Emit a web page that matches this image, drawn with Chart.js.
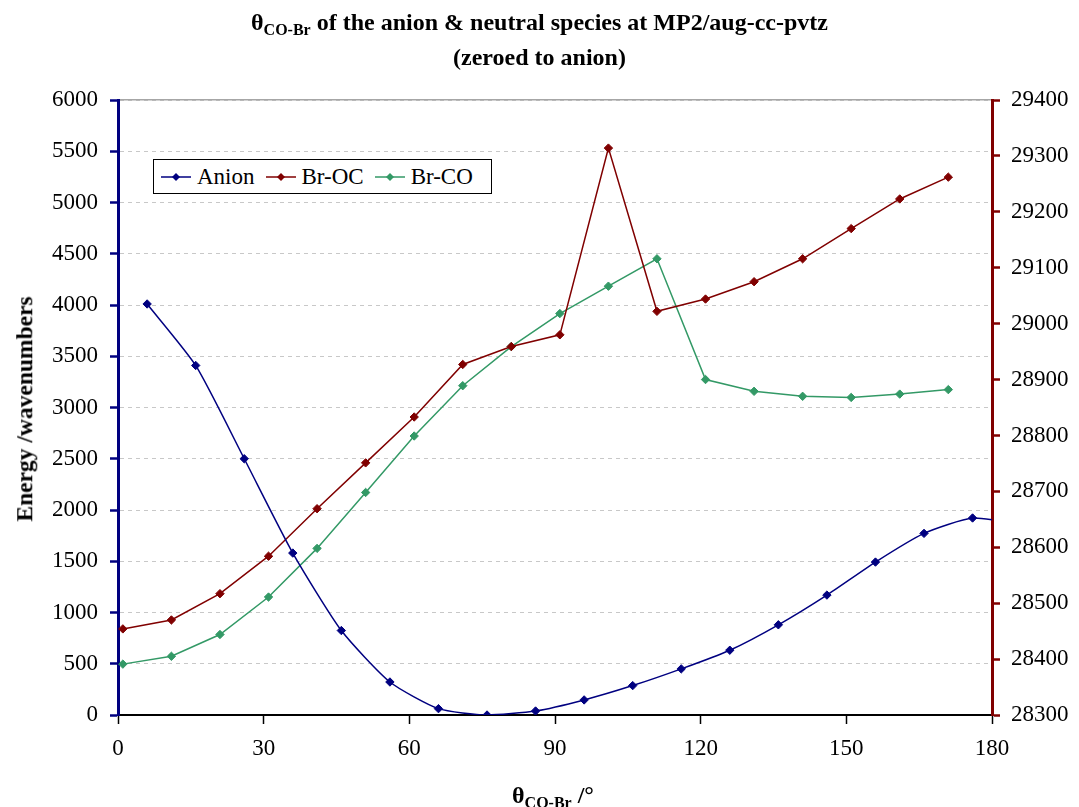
<!DOCTYPE html>
<html>
<head>
<meta charset="utf-8">
<script src="https://cdn.jsdelivr.net/npm/chart.js@4.4.1/dist/chart.umd.min.js"></script>
<style>
  html, body { margin: 0; padding: 0; background: #ffffff; }
  #wrap { position: relative; width: 1079px; height: 807px; overflow: hidden; font-family: "Liberation Serif", "Times New Roman", serif; color: #000; }
  #c { position: absolute; left: 0; top: 0; }
  .title { position: absolute; left: 0; width: 1079px; text-align: center; font-weight: bold; font-size: 24px; line-height: 1; white-space: nowrap; }
  .title sub, .xt sub { font-size: 16px; vertical-align: baseline; position: relative; top: 5px; }
  .ytitle { position: absolute; left: 25px; top: 409px; transform: translate(-50%, -50%) rotate(-90deg); font-weight: bold; font-size: 23.5px; white-space: nowrap; line-height: 1; }
  .xt { position: absolute; left: 553px; top: 783px; transform: translateX(-50%); font-weight: bold; font-size: 24px; white-space: nowrap; line-height: 1; }
  #legend { position: absolute; left: 153px; top: 159px; width: 337px; height: 33px; border: 1px solid #000; background: #fff; display: flex; align-items: center; font-size: 23px; }
  #legend .it { display: flex; align-items: center; margin-left: 11px; }
  #legend .it:first-child { margin-left: 7px; }
  #legend .it svg { margin-right: 6px; }
</style>
</head>
<body>
<div id="wrap">
  <canvas id="c" width="1079" height="807"></canvas>
  <div class="title" style="top:10px;">θ<sub>CO-Br</sub> of the anion &amp; neutral species at MP2/aug-cc-pvtz</div>
  <div class="title" style="top:45px;">(zeroed to anion)</div>
  <div class="ytitle">Energy /wavenumbers</div>
  <div class="xt">θ<sub>CO-Br</sub> /°</div>
  <div id="legend"></div>
</div>
<script>
// ---- data ----
const seriesNames = ["Anion", "Br-OC", "Br-CO"];
const seriesColors = ["#000080", "#800000", "#339966"];

const angleAnion = [6, 16, 26, 36, 46, 56, 66, 76, 86, 96, 106, 116, 126, 136, 146, 156, 166, 176, 186];
const anionEnergy = [4010, 3410, 2500, 1580, 824, 322, 62, 0, 39, 147, 287, 450, 632, 880, 1170, 1492, 1772, 1922, 1860];

const angleNeutral = [1, 11, 21, 31, 41, 51, 61, 71, 81, 91, 101, 111, 121, 131, 141, 151, 161, 171];
const brOCEnergy = [28454, 28470, 28517, 28584, 28669, 28751, 28833, 28927, 28959, 28980, 29314, 29022, 29044, 29075, 29116, 29170, 29223, 29262];
const brCOEnergy = [28391, 28405, 28444, 28511, 28598, 28698, 28799, 28889, 28959, 29018, 29067, 29116, 28900, 28879, 28870, 28868, 28874, 28882];

const xTicks = [0, 30, 60, 90, 120, 150, 180];
const leftTicks = [0, 500, 1000, 1500, 2000, 2500, 3000, 3500, 4000, 4500, 5000, 5500, 6000];
const rightTicks = [28300, 28400, 28500, 28600, 28700, 28800, 28900, 29000, 29100, 29200, 29300, 29400];

// ---- build ----
const pts = (xs, ys) => xs.map((x, i) => ({ x: x, y: ys[i] }));

function ds(label, color, data, axis, tension) {
  return {
    label: label, data: data, yAxisID: axis,
    borderColor: color, backgroundColor: color,
    borderWidth: 1.5, tension: tension,
    pointStyle: 'rectRot', pointRadius: 4.2, pointHoverRadius: 4.2,
    pointBackgroundColor: color, pointBorderColor: color, pointBorderWidth: 1
  };
}

const tickFont = { family: "'Liberation Serif', 'Times New Roman', serif", size: 23 };
const plain = v => String(v);

new Chart(document.getElementById('c'), {
  type: 'line',
  data: {
    datasets: [
      ds(seriesNames[0], seriesColors[0], pts(angleAnion, anionEnergy), 'y', 0.2),
      ds(seriesNames[1], seriesColors[1], pts(angleNeutral, brOCEnergy), 'y2', 0),
      ds(seriesNames[2], seriesColors[2], pts(angleNeutral, brCOEnergy), 'y2', 0)
    ]
  },
  options: {
    responsive: false,
    devicePixelRatio: 1,
    animation: false,
    events: [],
    layout: { padding: { top: 100, left: 0, right: 0, bottom: 0 } },
    plugins: { legend: { display: false }, title: { display: false }, tooltip: { enabled: false } },
    scales: {
      x: {
        type: 'linear', position: 'bottom', min: xTicks[0], max: xTicks[xTicks.length - 1],
        afterBuildTicks: s => { s.ticks = xTicks.map(v => ({ value: v })); },
        afterFit: s => { s.height = 92; },
        ticks: { color: '#000', font: tickFont, padding: 11, maxRotation: 0, autoSkip: false, callback: plain },
        grid: { drawOnChartArea: false, tickColor: '#000', tickLength: 9, tickWidth: 1.5 },
        border: { color: '#000', width: 2 }
      },
      xTop: {
        type: 'linear', position: 'top', min: 0, max: 180,
        afterFit: s => { s.height = 0; },
        ticks: { display: false },
        grid: { display: false, drawTicks: false },
        border: { color: '#a6a6a6', width: 1.5 }
      },
      y: {
        type: 'linear', position: 'left', min: leftTicks[0], max: leftTicks[leftTicks.length - 1],
        afterBuildTicks: s => { s.ticks = leftTicks.map(v => ({ value: v })); },
        afterFit: s => { s.width = 118; },
        ticks: { color: '#000', font: tickFont, padding: 12, callback: plain },
        grid: { color: '#c8c8c8', lineWidth: 1, tickColor: '#000080', tickLength: 8, tickWidth: 2.5 },
        border: { color: '#000080', width: 3, dash: [4, 4] }
      },
      y2: {
        type: 'linear', position: 'right', min: rightTicks[0], max: rightTicks[rightTicks.length - 1],
        afterBuildTicks: s => { s.ticks = rightTicks.map(v => ({ value: v })); },
        afterFit: s => { s.width = 87; },
        ticks: { color: '#000', font: tickFont, padding: 11, callback: plain },
        grid: { drawOnChartArea: false, tickColor: '#800000', tickLength: 8, tickWidth: 2.5 },
        border: { color: '#800000', width: 3 }
      }
    }
  }
});

// HTML legend built from the series names/colours
const leg = document.getElementById('legend');
seriesNames.forEach((n, i) => {
  const c = seriesColors[i];
  const it = document.createElement('div');
  it.className = 'it';
  it.innerHTML = '<svg width="30" height="12"><line x1="0" y1="6" x2="30" y2="6" stroke="' + c + '" stroke-width="1.5"/>' +
    '<polygon points="15,2 19,6 15,10 11,6" fill="' + c + '"/></svg><span>' + n + '</span>';
  leg.appendChild(it);
});
</script>
</body>
</html>
